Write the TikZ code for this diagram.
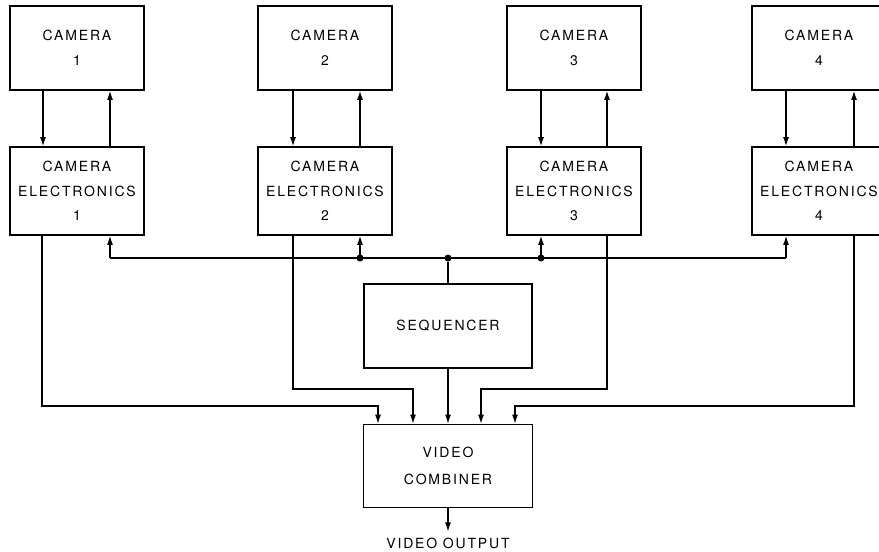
\documentclass[tikz,border=0pt]{standalone}
\usepackage{fontspec}
\setmainfont{TeX Gyre Heros}[LetterSpace=13]
\usetikzlibrary{arrows.meta,positioning,calc}

\begin{document}
\begin{tikzpicture}[
    x=1pt, y=-1pt,
    font=\fontsize{14}{24.5}\selectfont,
    block/.style={rectangle, draw, line width=1.8pt, minimum width=134pt, minimum height=84pt, align=center, inner sep=0pt},
    elec/.style={block, minimum height=88pt},
    arrow/.style={-{Latex[length=9pt,width=6pt]}, line width=1.1pt},
    link/.style={line width=1.1pt},
    dot/.style={circle, fill, inner sep=0pt, minimum size=7pt}
]
    \useasboundingbox (0,0) rectangle (879,552);

    % cameras and their electronics
    \node[block] (cam1) at (77,48) {CAMERA\\1};
    \node[block] (cam2) at (325,48) {CAMERA\\2};
    \node[block] (cam3) at (574,48) {CAMERA\\3};
    \node[block] (cam4) at (819,48) {CAMERA\\4};
    \node[elec] (ce1) at (77,191) {CAMERA\\ELECTRONICS\\1};
    \node[elec] (ce2) at (325,191) {CAMERA\\ELECTRONICS\\2};
    \node[elec] (ce3) at (574,191) {CAMERA\\ELECTRONICS\\3};
    \node[elec] (ce4) at (819,191) {CAMERA\\ELECTRONICS\\4};

    \node[block, minimum width=168pt] (seq) at (448,326) {SEQUENCER};
    \node[block, minimum width=169pt, minimum height=83pt] (vc) at (448,466) {VIDEO\\[3pt]COMBINER};
    \node[inner sep=1pt] (out) at (448,543) {VIDEO OUTPUT};

    % camera <-> electronics
    \draw[arrow] ([xshift=-34pt]cam1.south) -- ([xshift=-34pt]ce1.north);
    \draw[arrow] ([xshift=33pt]ce1.north) -- ([xshift=33pt]cam1.south);
    \draw[arrow] ([xshift=-32pt]cam2.south) -- ([xshift=-32pt]ce2.north);
    \draw[arrow] ([xshift=35pt]ce2.north) -- ([xshift=35pt]cam2.south);
    \draw[arrow] ([xshift=-33pt]cam3.south) -- ([xshift=-33pt]ce3.north);
    \draw[arrow] ([xshift=33pt]ce3.north) -- ([xshift=33pt]cam3.south);
    \draw[arrow] ([xshift=-33pt]cam4.south) -- ([xshift=-33pt]ce4.north);
    \draw[arrow] ([xshift=35pt]ce4.north) -- ([xshift=35pt]cam4.south);

    % sequencer bus
    \coordinate (bus) at (448,258);
    \coordinate (ce1in) at ([xshift=33pt]ce1.south);
    \coordinate (ce2in) at ([xshift=35pt]ce2.south);
    \coordinate (ce3in) at ([xshift=-33pt]ce3.south);
    \coordinate (ce4in) at ([xshift=-33pt]ce4.south);
    \draw[link] (ce1in |- bus) -- (ce4in |- bus);
    \draw[arrow] (ce1in |- bus) -- (ce1in);
    \draw[arrow] (ce2in |- bus) -- (ce2in);
    \draw[arrow] (ce3in |- bus) -- (ce3in);
    \draw[arrow] (ce4in |- bus) -- (ce4in);
    \node[dot] (j2) at (ce2in |- bus) {};
    \node[dot] (j0) at (bus) {};
    \node[dot] (j3) at (ce3in |- bus) {};
    \draw[link] (seq.north) -- (j0);

    % video lines to the combiner
    \coordinate (outer) at (0,406);
    \coordinate (inner) at (0,389);
    \coordinate (in1) at ([xshift=-70pt]vc.north);
    \coordinate (in2) at ([xshift=-35pt]vc.north);
    \coordinate (in4) at ([xshift=33pt]vc.north);
    \coordinate (in5) at ([xshift=67pt]vc.north);
    \draw[arrow] ([xshift=-35pt]ce1.south) |- (outer -| in1) -- (in1);
    \draw[arrow] ([xshift=-32pt]ce2.south) |- (inner -| in2) -- (in2);
    \draw[arrow] (seq.south) -- (vc.north);
    \draw[arrow] ([xshift=33pt]ce3.south) |- (inner -| in4) -- (in4);
    \draw[arrow] ([xshift=35pt]ce4.south) |- (outer -| in5) -- (in5);

    \draw[arrow, shorten >=5pt] (vc.south) -- (out.north);
\end{tikzpicture}
\end{document}
